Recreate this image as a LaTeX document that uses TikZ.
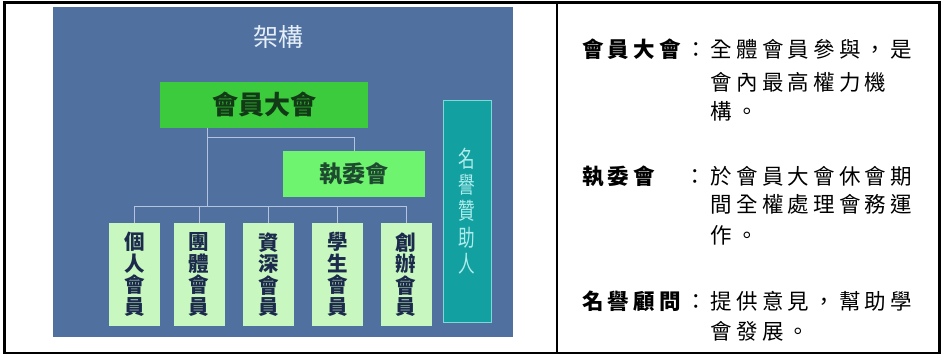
\documentclass[tikz,border=0pt]{standalone}
\usepackage{fontspec}
\newfontfamily\cjk{Noto Sans CJK TC}
\newlength\chp
\setlength\chp{25.7pt}
\def\spx#1{\ifx\relax#1\else\makebox[\chp][l]{#1}\expandafter\spx\fi}
\definecolor{slideC}{HTML}{5071A0}
\definecolor{titleC}{HTML}{E6EEF8}
\definecolor{gaC}{HTML}{3CCB3C}
\definecolor{gaT}{HTML}{123A16}
\definecolor{ecC}{HTML}{6FF46F}
\definecolor{ecT}{HTML}{1E4A30}
\definecolor{mbC}{HTML}{C8F8C0}
\definecolor{mbT}{HTML}{1C2A4C}
\definecolor{tealC}{HTML}{12A0A0}
\definecolor{tealE}{HTML}{7FD8D8}
\definecolor{tealT}{HTML}{B0ECEC}
\definecolor{linec}{HTML}{B4C4DC}
\begin{document}
\begin{tikzpicture}[x=1pt,y=-1pt,
  conn/.style={draw=linec, line width=0.8pt},
  boxbase/.style={rectangle, inner sep=0pt, outer sep=0pt},
  mbox/.style={boxbase, fill=mbC, minimum width=51pt, minimum height=103pt,
     align=center, text=mbT, font=\cjk\bfseries\fontsize{20.5}{21.5}\selectfont},
  rtxt/.style={anchor=base west, inner sep=0pt, font=\cjk\fontsize{21.5}{21.5}\selectfont, text=black}]
\useasboundingbox (0,0) rectangle (943,355);
% outer frame and divider
\draw[line width=2.2pt] (4.5,2.5) rectangle (939.5,353);
\draw[line width=2pt] (557,2.5) -- (557,353);
% slide background
\node[boxbase, fill=slideC, minimum width=460pt, minimum height=330pt] (slide) at (283,172) {};
\node[text=titleC, inner sep=0pt, font=\cjk\fontsize{25}{25}\selectfont] (title) at (278,37) {架構};
% top boxes
\node[boxbase, fill=gaC, minimum width=208pt, minimum height=46pt, text=gaT,
  font=\cjk\bfseries\fontsize{26}{26}\selectfont] (ga) at (264,105) {會員大會};
\node[boxbase, fill=ecC, minimum width=142pt, minimum height=46pt, text=ecT,
  font=\cjk\bfseries\fontsize{23}{23}\selectfont] (ec) at (354,174) {執委會};
% member boxes
\node[mbox] (b1) at (134.5,274.5) {個\\人\\會\\員};
\node[mbox] (b2) at (199,274.5) {團\\體\\會\\員};
\node[mbox] (b3) at (268.5,274.5) {資\\深\\會\\員};
\node[mbox] (b4) at (337.5,274.5) {學\\生\\會\\員};
\node[mbox] (b5) at (406,274.5) {創\\辦\\會\\員};
% honorary box
\node[boxbase, fill=tealC, draw=tealE, line width=0.8pt, minimum width=48pt, minimum height=222pt] (hon) at (467,211) {};
\node[inner sep=0pt, xscale=0.72, transform shape, align=center, text=tealT,
  font=\cjk\fontsize{23}{26.4}\selectfont] (hontxt) at (hon.center) {名\\譽\\贊\\助\\人};
% connectors
\coordinate (stem) at (207,206);
\coordinate (br) at (207,137);
\draw[conn] (stem |- ga.south) -- (stem);
\draw[conn] (br) -| (ec.north);
\draw[conn] (b1.north) -- ++(0,-17) -| (b5.north);
\draw[conn] (b2.north) -- ++(0,-17);
\draw[conn] (b3.north) -- ++(0,-17);
\draw[conn] (b4.north) -- ++(0,-17);
% right-hand text
\node[rtxt] (t1) at (582,58) {{\bfseries\spx 會員大會\relax}\spx ：全體會員參與，是\relax};
\node[rtxt] (t2) at (710.5,91) {\spx 會內最高權力機\relax};
\node[rtxt] (t3) at (710.5,120) {\spx 構。\relax};
\node[rtxt] (t4) at (582,185) {{\bfseries\spx 執委會\relax}\spx 　：於會員大會休會期\relax};
\node[rtxt] (t5) at (710.5,213) {\spx 間全權處理會務運\relax};
\node[rtxt] (t6) at (710.5,244) {\spx 作。\relax};
\node[rtxt] (t7) at (582,310) {{\bfseries\spx 名譽顧問\relax}\spx ：提供意見，幫助學\relax};
\node[rtxt] (t8) at (710.5,340) {\spx 會發展。\relax};
\end{tikzpicture}
\end{document}
